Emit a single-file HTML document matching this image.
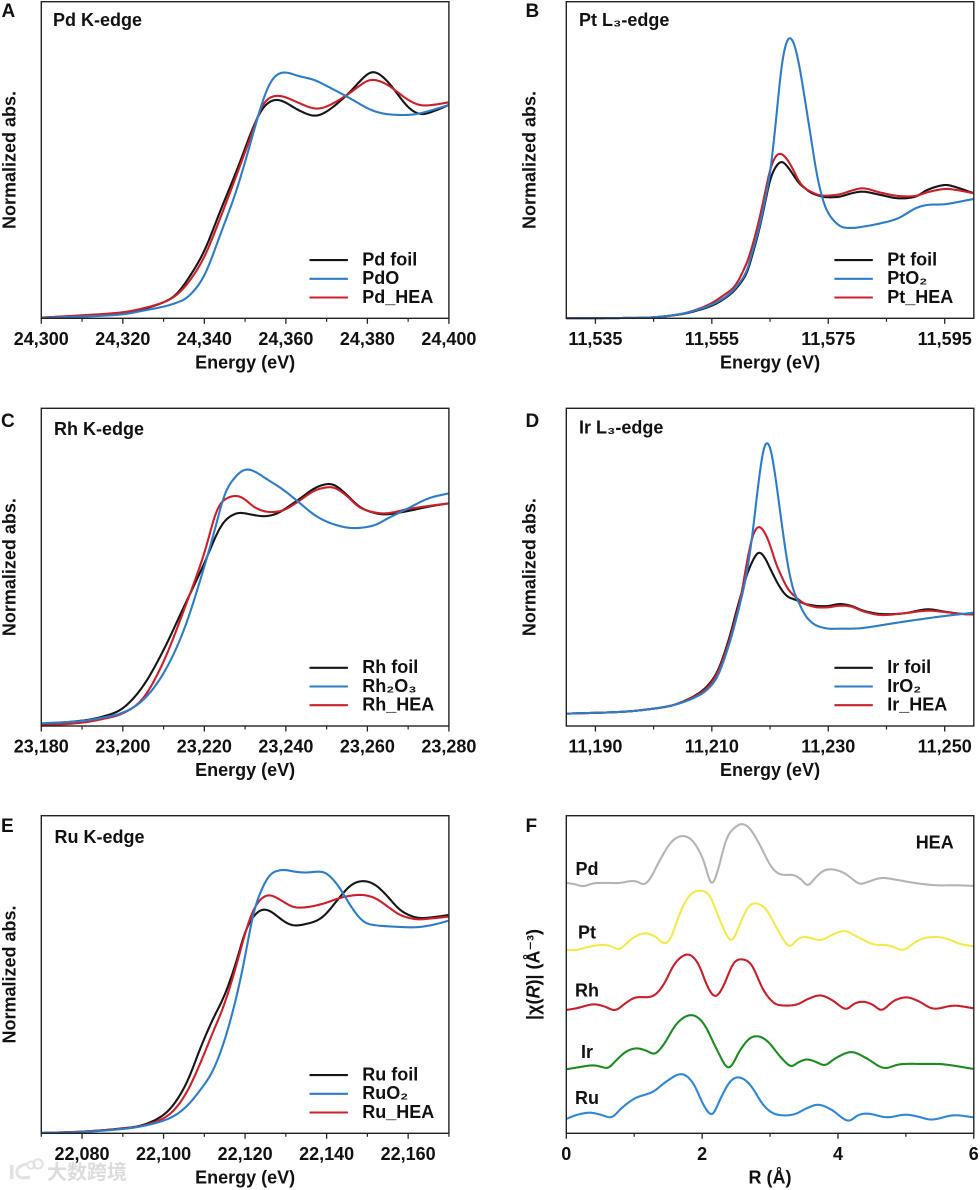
<!DOCTYPE html>
<html lang="en">
<head>
<meta charset="utf-8">
<title>XANES and EXAFS spectra of HEA</title>
<style>
html,body{margin:0;padding:0;background:#fff;width:980px;height:1190px;overflow:hidden}
svg{display:block;font-family:"Liberation Sans","DejaVu Sans",sans-serif;font-weight:bold;fill:#111;filter:blur(0.3px)}
</style>
</head>
<body>
<svg id="figure" xmlns="http://www.w3.org/2000/svg" width="980" height="1190" viewBox="0 0 980 1190">
  <g>
    <rect x="10" y="1165" width="3.5" height="14" fill="#e2e2e2"></rect>
    <path d="M27 1164 Q16 1166 17 1173 Q18 1180 30 1177" fill="none" stroke="#e2e2e2" stroke-width="3"></path>
    <circle cx="31" cy="1165" r="3.6" fill="none" stroke="#e2e2e2" stroke-width="2"></circle>
    <circle cx="38" cy="1164" r="4.6" fill="none" stroke="#e2e2e2" stroke-width="2"></circle>
    <text x="47" y="1179" font-size="20" fill="#dcdcdc" style="font-family:'Liberation Sans','Noto Sans CJK SC',sans-serif">大数跨境</text>
  </g>
</svg>
<script>
// Panel A: Pd K-edge
const pdEnergy=[24300,24310,24320,24325,24330,24333,24336,24340,24344,24348,24352,24354,24356,24358,24360,24363,24367,24370,24375,24380,24382,24385,24390,24393,24396,24400];
const pdFoil=[2,8,17,28,48,70,118,202,325,445,574,625,650,656,647,625,607,620,670,733,739,710,633,612,620,640];
const pdHea=[2,9,18,30,48,68,106,184,304,433,566,635,662,668,663,647,629,635,670,713,715,700,655,639,640,648];
const pdOxide=[1,5,12,23,35,46,64,128,254,388,555,640,705,733,738,727,715,697,665,630,620,612,610,615,625,640];
const pdMajorTicks=[24300,24320,24340,24360,24380,24400];
const pdMinorTicks=[24310,24330,24350,24370,24390];

// Panel B: Pt L3-edge
const ptEnergy=[11530,11540,11545,11550,11553,11555,11557,11559,11561,11562,11563,11564,11565,11566,11567,11568,11569,11570,11571,11572,11573,11574,11575,11577,11579,11581,11584,11587,11590,11592,11595,11597,11600];
const ptFoil=[0,1,3,13,26,38,57,86,136,193,256,334,415,455,470,455,430,405,390,377,370,365,363,365,375,380,370,360,365,385,400,393,375];
const ptHea=[0,1,3,14,30,46,69,98,166,220,286,364,445,487,493,475,445,410,390,380,372,368,368,372,383,390,377,367,367,378,388,385,375];
const ptOxide=[0,1,3,14,28,41,60,90,142,202,262,343,435,590,760,837,830,760,655,545,435,360,315,277,271,275,285,300,330,340,342,348,358];
const ptMajorTicks=[11535,11555,11575,11595];
const ptMinorTicks=[11545,11565,11585];

// Panel C: Rh K-edge
const rhEnergy=[23180,23190,23195,23200,23205,23210,23215,23220,23223,23225,23228,23230,23232,23235,23238,23240,23243,23247,23250,23252,23255,23258,23262,23265,23270,23275,23280];
const rhFoil=[6,16,28,53,120,228,358,488,575,616,639,638,633,629,638,653,678,713,726,723,693,658,638,635,645,658,668];
const rhHea=[1,10,21,38,83,193,348,518,648,680,691,680,658,643,643,650,673,706,716,715,690,656,640,638,651,660,668];
const rhOxide=[8,15,25,40,78,158,288,478,608,698,753,770,766,743,720,703,673,633,613,604,595,594,603,623,653,683,698];
const rhMajorTicks=[23180,23200,23220,23240,23260,23280];
const rhMinorTicks=[23190,23210,23230,23250,23270];

// Panel D: Ir L3-edge
const irEnergy=[11185,11195,11200,11203,11205,11207,11209,11211,11213,11214,11215,11216,11217,11218,11219,11220,11221,11222,11223,11224,11225,11226,11227,11228,11230,11232,11234,11236,11239,11243,11247,11250,11253,11255];
const irFoil=[37,43,52,61,73,90,116,165,264,330,393,453,495,521,508,473,438,408,388,381,374,366,363,360,360,366,360,346,336,338,350,343,336,335];
const irHea=[37,43,52,61,72,88,112,160,256,320,388,489,570,598,583,543,488,448,413,393,378,366,360,356,356,361,358,344,333,338,346,342,336,335];
const irOxide=[37,43,52,61,71,85,106,150,246,309,378,459,578,728,840,838,738,608,488,408,368,333,313,301,292,292,292,294,302,313,323,330,336,340];
const irMajorTicks=[11190,11210,11230,11250];
const irMinorTicks=[11200,11220,11240];

// Panel E: Ru K-edge
const ruEnergy=[22070,22080,22090,22095,22100,22103,22106,22109,22112,22115,22118,22120,22122,22124,22126,22128,22130,22132,22135,22138,22140,22143,22146,22149,22152,22155,22158,22162,22166,22170];
const ruFoil=[1,5,15,25,55,95,160,255,340,415,520,605,650,671,668,650,632,623,628,640,660,705,745,757,745,710,670,647,648,655];
const ruHea=[1,5,14,23,45,75,130,210,300,390,510,600,670,705,715,705,690,678,678,685,692,705,713,715,705,680,655,642,645,650];
const ruOxide=[1,4,13,22,38,55,85,130,185,280,415,530,660,730,775,788,790,785,782,785,780,740,680,635,624,621,619,618,625,638];
const ruMajorTicks=[22080,22100,22120,22140,22160];
const ruMinorTicks=[22070,22090,22110,22130,22150,22170];

// Panel F: EXAFS |chi(R)| stacked traces
const exafsPdR=[0,.13,.25,.40,.64,.79,.96,1.06,1.14,1.23,1.38,1.55,1.72,1.87,2.02,2.14,2.24,2.36,2.51,2.59,2.70,2.85,3.0,3.10,3.20,3.34,3.47,3.55,3.66,3.78,3.91,4.08,4.23,4.32,4.45,4.64,4.87,5.16,5.45,5.75,6];
const exafsPdChi=[751,747,741,750,751,751,757,754,746,762,820,875,892,875,820,745,795,885,922,928,915,865,805,782,775,775,760,742,765,787,792,782,760,748,755,766,760,750,744,744,742];
const exafsPtR=[0,.15,.30,.49,.64,.78,.94,1.06,1.18,1.33,1.45,1.55,1.67,1.82,2.0,2.12,2.26,2.43,2.56,2.68,2.80,2.95,3.10,3.28,3.39,3.51,3.64,3.76,3.91,4.10,4.28,4.52,4.74,4.97,5.11,5.26,5.43,5.60,5.80,6];
const exafsPtChi=[550,550,558,565,563,552,580,595,600,588,568,590,660,715,728,710,640,577,630,680,690,670,615,560,580,590,583,580,595,607,590,567,564,550,570,585,589,584,568,561];
const exafsRhR=[0,.15,.40,.57,.72,.87,1.01,1.28,1.43,1.6,1.79,1.94,2.09,2.2,2.31,2.46,2.59,2.73,2.9,3.05,3.15,3.39,3.56,3.74,3.91,4.12,4.23,4.37,4.52,4.64,4.82,5.01,5.18,5.4,5.7,6];
const exafsRhChi=[370,375,387,380,369,390,407,412,445,510,537,510,435,410,440,510,522,505,430,392,384,386,403,414,400,372,388,395,385,369,397,408,397,374,383,375];
const exafsIrR=[0,.15,.40,.54,.62,.74,.88,1.03,1.18,1.3,1.43,1.63,1.84,2.02,2.22,2.39,2.56,2.7,2.83,2.97,3.15,3.31,3.39,3.54,3.69,3.81,3.96,4.2,4.42,4.67,4.91,5.26,5.55,6];
const exafsIrChi=[192,197,204,198,196,220,245,255,248,238,265,330,355,330,250,195,250,285,291,275,230,200,210,222,213,204,225,244,225,196,207,208,207,193];
const exafsRuR=[0,.15,.35,.52,.67,.81,1.01,1.28,1.47,1.7,1.87,2.02,2.15,2.26,2.41,2.55,2.71,2.9,3.07,3.34,3.54,3.71,3.91,4.15,4.3,4.45,4.72,4.99,5.18,5.38,5.7,6];
const exafsRuChi=[43,55,62,55,48,75,105,125,155,178,150,85,55,100,155,168,145,85,58,56,75,86,70,37,55,59,48,56,50,41,54,48];
const exafsMajorTicks=[0,2,4,6];
const exafsMinorTicks=[1,3,5];

const BLACK='#151515',BLUE='#2e7cc6',RED='#c9202a';
const YMAX=953;
const svg=document.getElementById('figure');
const NS='http://www.w3.org/2000/svg';

function make(tag,attrs,parent){
  const e=document.createElementNS(NS,tag);
  for(const k in attrs){e.setAttribute(k,attrs[k]);}
  parent.appendChild(e);
  return e;
}
function commas(v){
  return String(v).replace(/\B(?=(\d{3})+$)/g,',');
}
function linear(d0,d1,r0,r1){
  return function(v){return r0+(v-d0)*(r1-r0)/(d1-d0);};
}
// Hermite evaluation through the data, then a small Gaussian filter in pixel space
function curvePath(xs,ys,sx,sy,sigmaPx){
  const n=xs.length;
  const m=[];
  for(let i=0;i<n;i++){
    const a=Math.max(0,i-1),b=Math.min(n-1,i+1);
    m.push((ys[b]-ys[a])/(xs[b]-xs[a]));
  }
  const px0=sx(xs[0]),px1=sx(xs[n-1]);
  const step=0.5;
  const count=Math.round((px1-px0)/step);
  const raw=[];
  let seg=0;
  for(let k=0;k<=count;k++){
    const x=xs[0]+(xs[n-1]-xs[0])*k/count;
    while(seg<n-2&&x>xs[seg+1]){seg++;}
    const h=xs[seg+1]-xs[seg];
    const t=(x-xs[seg])/h;
    const t2=t*t,t3=t2*t;
    raw.push((2*t3-3*t2+1)*ys[seg]+(t3-2*t2+t)*h*m[seg]+(-2*t3+3*t2)*ys[seg+1]+(t3-t2)*h*m[seg+1]);
  }
  const reach=Math.ceil(3*sigmaPx/step);
  let d='';
  for(let k=0;k<=count;k+=2){
    const w=Math.min(reach,k,count-k);
    let sum=0,tot=0;
    for(let j=-w;j<=w;j++){
      const g=Math.exp(-0.5*Math.pow(j*step/sigmaPx,2));
      sum+=g*raw[k+j];
      tot+=g;
    }
    const x=xs[0]+(xs[n-1]-xs[0])*k/count;
    d+=(k===0?'M':'L')+sx(x).toFixed(2)+' '+sy(sum/tot).toFixed(2);
  }
  return d;
}
function label(parent,txt,x,y,anchor,size,name){
  const t=make('text',{x:x,y:y,'text-anchor':anchor,'font-size':size},parent);
  t.textContent=txt;
  
  
  return t;
}
function drawAxes(g,p,sx){
  const frame=make('rect',{x:p.left,y:p.top,width:p.right-p.left,height:p.bottom-p.top,fill:'none',stroke:'#222','stroke-width':1.4},g);
  
  
  p.major.forEach(function(v){
    const tick=make('line',{x1:sx(v),x2:sx(v),y1:p.bottom,y2:p.bottom+5.5,stroke:'#222','stroke-width':1.3},g);
    
    
    label(g,p.format(v),sx(v),p.bottom+26.6,'middle',18,'x-tick-label');
  });
  p.minor.forEach(function(v){
    const tick=make('line',{x1:sx(v),x2:sx(v),y1:p.bottom,y2:p.bottom+3.5,stroke:'#222','stroke-width':1.2},g);
    
    
  });
  label(g,p.xTitle,(p.left+p.right)/2,p.bottom+50,'middle',18,'x-axis-title');
  const yt=label(g,p.yTitle,0,0,'middle',18,'y-axis-title');
  yt.setAttribute('transform','translate('+p.yTitleX+' '+(p.top+p.bottom)/2+') rotate(-90)');
  if(p.yItalic){
    yt.textContent='';
    const a=make('tspan',{},yt);a.textContent='|χ(';
    const b=make('tspan',{'font-style':'italic'},yt);b.textContent='R';
    const c=make('tspan',{},yt);c.textContent=')| (Å⁻³)';
  }
  label(g,p.letter,p.letterX,p.letterY,'start',19,'panel-letter');
}
function drawXanes(p){
  const g=make('g',{},svg);
  
  
  const sx=linear(p.x0,p.x1,p.left,p.right);
  const sy=linear(0,YMAX,p.bottom,p.bottom-317.7);
  p.series.forEach(function(s){
    const path=make('path',{d:curvePath(p.energy,s.values,sx,sy,p.sigma),fill:'none',stroke:s.color,'stroke-width':2.1,'stroke-linejoin':'round'},g);
    
    
  });
  drawAxes(g,p,sx);
  label(g,p.title,p.titleX,p.titleY,'start',18,'edge-title');
  const lg=make('g',{},g);
  
  
  p.legend.forEach(function(item,i){
    const ly=p.bottom-58.2+i*18.7;
    const sw=make('line',{x1:p.right-139.4,x2:p.right-101,y1:ly,y2:ly,stroke:item.color,'stroke-width':2.1},lg);
    
    
    label(lg,item.text,p.right-86.6,ly+5.3,'start',18,'legend-entry');
  });
}
function xanesPanel(cfg){
  const s=cfg.arrays;
  cfg.energy=s[0];
  cfg.series=[
    {id:cfg.sym.toLowerCase()+'-foil-curve',values:s[1],color:BLACK},
    {id:cfg.sym.toLowerCase()+'-hea-curve',values:s[2],color:RED},
    {id:cfg.sym.toLowerCase()+'-oxide-curve',values:s[3],color:BLUE}
  ];
  cfg.legend=[
    {text:cfg.sym+' foil',color:BLACK},
    {text:cfg.oxide,color:BLUE},
    {text:cfg.sym+'_HEA',color:RED}
  ];
  cfg.format=commas;
  cfg.xTitle='Energy (eV)';
  cfg.yTitle='Normalized abs.';
  drawXanes(cfg);
}
const L={l:41.3,r:448.9},R={l:566.3,r:973.8};
xanesPanel({name:'panel-a-pd',sym:'Pd',oxide:'PdO',title:'Pd K-edge',letter:'A',arrays:[pdEnergy,pdFoil,pdHea,pdOxide],major:pdMajorTicks,minor:pdMinorTicks,sigma:3.2,
  x0:24300,x1:24400,left:L.l,right:L.r,top:1.7,bottom:318.3,yTitleX:15.7,letterX:1.5,letterY:17,titleX:53,titleY:26});
xanesPanel({name:'panel-b-pt',sym:'Pt',oxide:'PtO₂',title:'Pt L₃-edge',letter:'B',arrays:[ptEnergy,ptFoil,ptHea,ptOxide],major:ptMajorTicks,minor:ptMinorTicks,sigma:1.6,
  x0:11530,x1:11600,left:R.l,right:R.r,top:1.7,bottom:318.3,yTitleX:535.3,letterX:525.5,letterY:17,titleX:579,titleY:26});
xanesPanel({name:'panel-c-rh',sym:'Rh',oxide:'Rh₂O₃',title:'Rh K-edge',letter:'C',arrays:[rhEnergy,rhFoil,rhHea,rhOxide],major:rhMajorTicks,minor:rhMinorTicks,sigma:3.2,
  x0:23180,x1:23280,left:L.l,right:L.r,top:408.3,bottom:726,yTitleX:15.7,letterX:1,letterY:427,titleX:54,titleY:435});
xanesPanel({name:'panel-d-ir',sym:'Ir',oxide:'IrO₂',title:'Ir L₃-edge',letter:'D',arrays:[irEnergy,irFoil,irHea,irOxide],major:irMajorTicks,minor:irMinorTicks,sigma:1.6,
  x0:11185,x1:11255,left:R.l,right:R.r,top:408.3,bottom:726,yTitleX:535.3,letterX:525.5,letterY:427,titleX:579,titleY:433.5});
xanesPanel({name:'panel-e-ru',sym:'Ru',oxide:'RuO₂',title:'Ru K-edge',letter:'E',arrays:[ruEnergy,ruFoil,ruHea,ruOxide],major:ruMajorTicks,minor:ruMinorTicks,sigma:3,
  x0:22070,x1:22170,left:L.l,right:L.r,top:815.7,bottom:1133.3,yTitleX:15.7,letterX:1,letterY:832,titleX:54.5,titleY:843});

// Panel F
const fPanel={letter:'F',left:R.l,right:R.r,top:815.7,bottom:1133.3,yTitleX:539.3,letterX:525.5,letterY:832,major:exafsMajorTicks,minor:exafsMinorTicks,
  format:String,xTitle:'R (Å)',yTitle:'|χ(R)| (Å⁻³)',yItalic:true};
const fGroup=make('g',{},svg);


const fx=linear(0,6,fPanel.left,fPanel.right);
const fy=linear(0,YMAX,fPanel.bottom,fPanel.bottom-317.7);
const fTraces=[
  {id:'pd-trace',r:exafsPdR,chi:exafsPdChi,color:'#b4b4b4',text:'Pd',ly:875},
  {id:'pt-trace',r:exafsPtR,chi:exafsPtChi,color:'#f2e94e',text:'Pt',ly:938.5},
  {id:'rh-trace',r:exafsRhR,chi:exafsRhChi,color:'#c6202b',text:'Rh',ly:996.5},
  {id:'ir-trace',r:exafsIrR,chi:exafsIrChi,color:'#1d8a22',text:'Ir',ly:1058},
  {id:'ru-trace',r:exafsRuR,chi:exafsRuChi,color:'#2f86d2',text:'Ru',ly:1104}
];
fTraces.forEach(function(t){
  const path=make('path',{d:curvePath(t.r,t.chi,fx,fy,2),fill:'none',stroke:t.color,'stroke-width':2.1,'stroke-linejoin':'round'},fGroup);
  
  
  label(fGroup,t.text,587,t.ly,'middle',18,'trace-label');
});
drawAxes(fGroup,fPanel,fx);
label(fGroup,'HEA',915.7,848.5,'start',18,'material-label');
</script>
</body>
</html>
